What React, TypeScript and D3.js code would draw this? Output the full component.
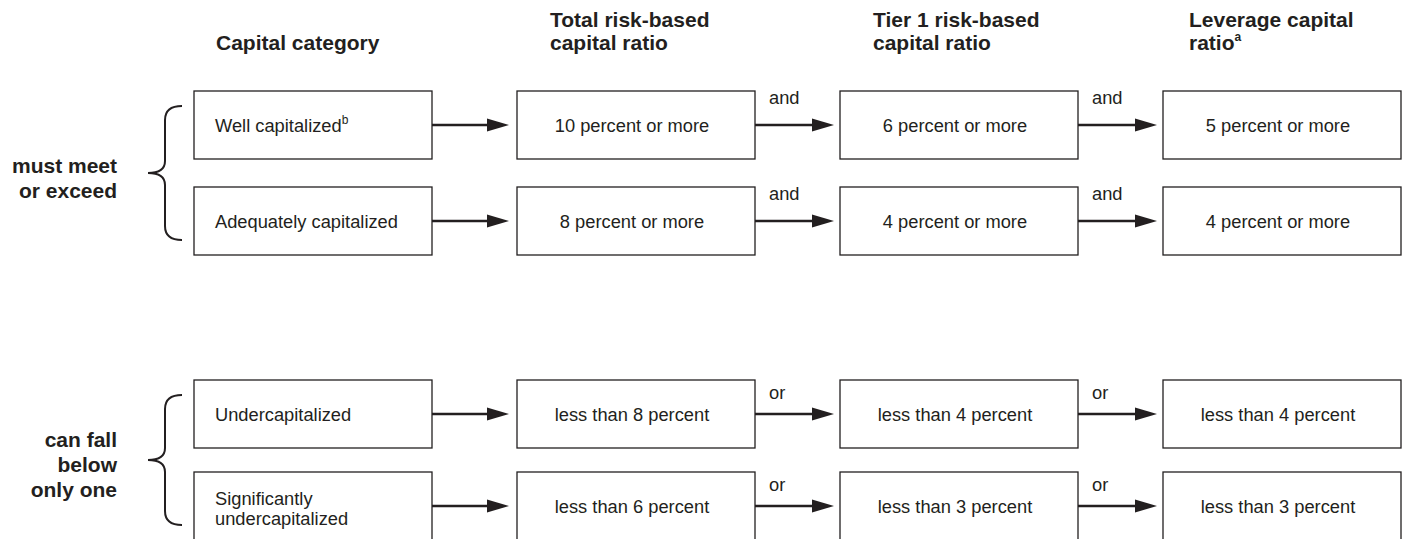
import React from "react";
import * as d3 from "d3";

// ---- data ----
const columnTitles: string[][] = [
  ["Capital category"],
  ["Total risk-based", "capital ratio"],
  ["Tier 1 risk-based", "capital ratio"],
  ["Leverage capital", "ratio"],
];
const titleSup = ["", "", "", "a"];
const categories: string[][] = [
  ["Well capitalized"],
  ["Adequately capitalized"],
  ["Undercapitalized"],
  ["Significantly", "undercapitalized"],
];
const categorySup = ["b", "", "", ""];
const totalRatio = ["10 percent or more", "8 percent or more", "less than 8 percent", "less than 6 percent"];
const tier1Ratio = ["6 percent or more", "4 percent or more", "less than 4 percent", "less than 3 percent"];
const leverageRatio = ["5 percent or more", "4 percent or more", "less than 4 percent", "less than 3 percent"];
const connectors = ["and", "and", "or", "or"];
const groupLabels: string[][] = [
  ["must meet", "or exceed"],
  ["can fall", "below", "only one"],
];
const groupRows: number[][] = [
  [0, 1],
  [2, 3],
];

const W = 1405;
const H = 539;
const FONT = "'Liberation Sans', Arial, Helvetica, sans-serif";
const INK = "#231f20";

export default function App() {
  const colX = d3.scaleLinear().domain([0, 3]).range([194, 1163]);
  const rowY = d3.scaleLinear().domain([0, 1, 2, 3]).range([91, 187, 380, 472]);
  const boxW = 238;
  const boxH = 68;
  const titleX = [216, 550, 873, 1189];
  const fs = 18.3;

  const valueCols = [totalRatio, tier1Ratio, leverageRatio];

  const brace = (x: number, top: number, bottom: number) => {
    const mid = (top + bottom) / 2;
    const v = x - 17; // vertical stem
    const tip = x - 34;
    const p = d3.path();
    p.moveTo(x, top);
    p.bezierCurveTo(x - 10, top, v, top + 4, v, top + 14);
    p.lineTo(v, mid - 12);
    p.bezierCurveTo(v, mid - 3, v - 8, mid, tip, mid);
    p.bezierCurveTo(v - 8, mid, v, mid + 3, v, mid + 12);
    p.lineTo(v, bottom - 14);
    p.bezierCurveTo(v, bottom - 4, x - 10, bottom, x, bottom);
    return p.toString();
  };

  const arrow = (x1: number, x2: number, y: number, key: string) => {
    const headL = 22;
    const headH = 6.5;
    return (
      <g key={key}>
        <line x1={x1} y1={y} x2={x2 - headL + 2} y2={y} stroke={INK} strokeWidth={2.4} />
        <path d={`M${x2},${y} L${x2 - headL},${y - headH} L${x2 - headL},${y + headH} Z`} fill={INK} />
      </g>
    );
  };

  return (
    <svg
      width={W}
      height={H}
      style={{ position: "absolute", left: 0, top: 0, background: "#fff" }}
      fontFamily={FONT}
    >
      <rect x={0} y={0} width={W} height={H} fill="#fff" />
      {/* column titles */}
      {columnTitles.map((lines, i) => (
        <text key={"t" + i} x={titleX[i]} fontSize={21} fontWeight="bold" fill={INK}>
          {lines.map((l, j) => {
            const y = lines.length === 1 ? 50 : 27 + j * 23;
            return (
              <tspan key={j} x={titleX[i]} y={y}>
                {l}
                {j === lines.length - 1 && titleSup[i] ? (
                  <tspan fontSize={12} dy={-9}>{titleSup[i]}</tspan>
                ) : null}
              </tspan>
            );
          })}
        </text>
      ))}

      {/* group labels and braces */}
      {groupRows.map((rows, g) => {
        const top = rowY(rows[0]) + 15;
        const bottom = rowY(rows[rows.length - 1]) + boxH - 15;
        const mid = (top + bottom) / 2;
        const lines = groupLabels[g];
        const startY = mid + 9 - ((lines.length - 1) * 25) / 2 + 3;
        return (
          <g key={"g" + g}>
            <path d={brace(182, top, bottom)} fill="none" stroke={INK} strokeWidth={2} />
            <text fontSize={21} fontWeight="bold" fill={INK} textAnchor="end">
              {lines.map((l, j) => (
                <tspan key={j} x={117} y={startY + j * 25}>
                  {l}
                </tspan>
              ))}
            </text>
          </g>
        );
      })}

      {/* rows */}
      {categories.map((cat, r) => {
        const y0 = rowY(r);
        const cy = y0 + boxH / 2;
        return (
          <g key={"r" + r}>
            {/* category box */}
            <rect x={colX(0)} y={y0} width={boxW} height={boxH} fill="#fff" stroke={INK} strokeWidth={1.3} />
            <text fontSize={fs} fill={INK}>
              {cat.map((l, j) => (
                <tspan key={j} x={colX(0) + 21} y={cy + 6.5 - ((cat.length - 1) * 20) / 2 + 2 * (cat.length - 1) + j * 20}>
                  {l}
                  {j === cat.length - 1 && categorySup[r] ? (
                    <tspan fontSize={12} dy={-8}>{categorySup[r]}</tspan>
                  ) : null}
                </tspan>
              ))}
            </text>
            {arrow(colX(0) + boxW, colX(1) - 8, cy, "a0")}
            {valueCols.map((col, c) => {
              const x0 = colX(c + 1);
              return (
                <g key={"c" + c}>
                  <rect x={x0} y={y0} width={boxW} height={boxH} fill="#fff" stroke={INK} strokeWidth={1.3} />
                  <text x={x0 + boxW / 2 - 4} y={cy + 6.5} fontSize={fs} fill={INK} textAnchor="middle">
                    {col[r]}
                  </text>
                  {c < 2 ? (
                    <g>
                      {arrow(x0 + boxW, colX(c + 2) - 6, cy, "a" + c)}
                      <text
                        x={x0 + boxW + 14}
                        y={cy - (connectors[r] === "and" ? 21 : 15)}
                        fontSize={fs}
                        fill={INK}
                      >
                        {connectors[r]}
                      </text>
                    </g>
                  ) : null}
                </g>
              );
            })}
          </g>
        );
      })}
    </svg>
  );
}
